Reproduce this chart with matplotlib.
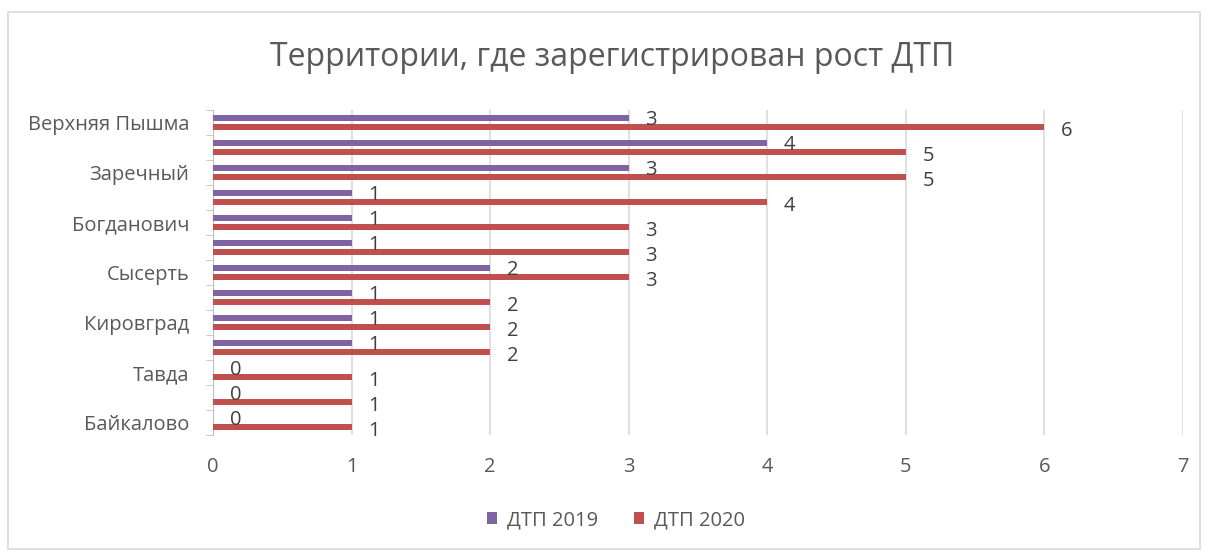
import matplotlib.pyplot as plt
import matplotlib.patches as mpatches
import numpy as np

# categories top to bottom (every other label is hidden in the original)
categories = ['Верхняя Пышма', '', 'Заречный', '', 'Богданович', '', 'Сысерть',
              '', 'Кировград', '', 'Тавда', '', 'Байкалово']
dtp_2019 = [3, 4, 3, 1, 1, 1, 2, 1, 1, 1, 0, 0, 0]
dtp_2020 = [6, 5, 5, 4, 3, 3, 3, 2, 2, 2, 1, 1, 1]

purple = '#8064A2'
red = '#C0504D'
txt = '#595959'

plt.rcParams['font.family'] = ['Open Sans', 'DejaVu Sans']

fig = plt.figure(figsize=(12.08, 5.52), dpi=100)
ax = fig.add_axes([0.1763, 0.212, 0.803, 0.589])

y = np.arange(len(categories))
h = 0.22
ax.barh(y - 0.18, dtp_2019, height=h, color=purple, label='ДТП 2019', zorder=3)
ax.barh(y + 0.18, dtp_2020, height=h, color=red, label='ДТП 2020', zorder=3)

for i in range(len(categories)):
    ax.text(dtp_2019[i] + 0.12, y[i] - 0.08, str(dtp_2019[i]), fontsize=14.5,
            color='#404040', ha='left', va='center', zorder=4)
    ax.text(dtp_2020[i] + 0.12, y[i] + 0.35, str(dtp_2020[i]), fontsize=14.5,
            color='#404040', ha='left', va='center', zorder=4)

ax.set_xlim(0, 7)
ax.set_ylim(len(categories) - 0.5, -0.5)
ax.set_xticks(range(8))
ax.tick_params(axis='x', length=0, pad=16, labelsize=14.5, labelcolor=txt)
ax.grid(axis='x', color='#E0E0E0', linewidth=1.5, zorder=0)

ax.set_yticks(y[::2])
ax.set_yticklabels([categories[i] for i in y[::2]])
ax.tick_params(axis='y', length=0, pad=17, labelsize=14.5, labelcolor=txt)
ax.set_yticks(np.arange(-0.5, len(categories)), minor=True)
ax.tick_params(axis='y', which='minor', length=5, color='#BFBFBF')

for s in ['top', 'right', 'bottom']:
    ax.spines[s].set_visible(False)
ax.spines['left'].set_color('#BFBFBF')

fig.text(0.507, 0.895, 'Территории, где зарегистрирован рост ДТП', fontsize=23,
         color=txt, ha='center', va='center')

fig.legend(loc='center', bbox_to_anchor=(0.51, 0.058), ncol=2, frameon=False,
           fontsize=14.5, labelcolor=txt, handlelength=0.5, handleheight=0.5,
           columnspacing=1.8, handletextpad=0.5)

fig.patches.append(mpatches.Rectangle((0.007, 0.005), 0.986, 0.973, fill=False,
                                      edgecolor='#D9D9D9', linewidth=1.2,
                                      transform=fig.transFigure, figure=fig))

fig.savefig('out.png', dpi=100)
